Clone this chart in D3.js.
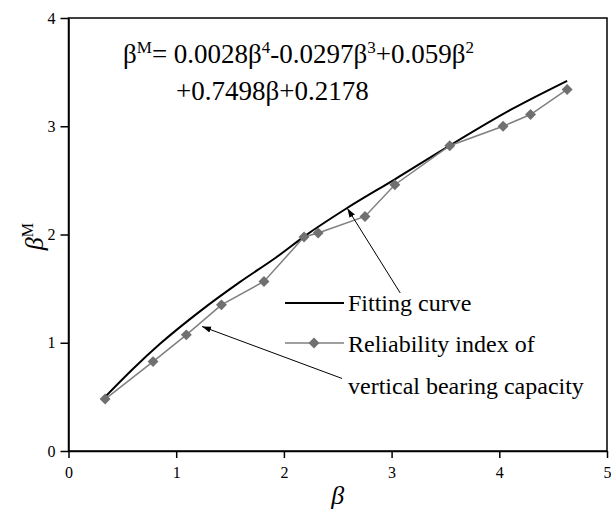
<!DOCTYPE html>
<html>
<head>
<meta charset="utf-8">
<script src="https://cdn.jsdelivr.net/npm/d3@7"></script>
</head>
<body style="margin:0;background:#fff">
<div id="chart"></div>
<script>
// reliability index of vertical bearing capacity (diamonds)
const betaVals = [0.34, 0.785, 1.094, 1.42, 1.815, 2.187, 2.318, 2.753, 3.03, 3.54, 4.035, 4.29, 4.63];
const betaMVals = [0.48, 0.826, 1.073, 1.35, 1.566, 1.977, 2.014, 2.167, 2.46, 2.82, 3.0, 3.108, 3.34];
// fitting curve
const fitBeta = [0.34, 0.6, 0.85, 1.22, 1.59, 1.93, 2.2, 2.58, 3.03, 3.52, 4.12, 4.63];
const fitBetaM = [0.5, 0.76, 0.99, 1.29, 1.56, 1.79, 1.99, 2.24, 2.51, 2.81, 3.16, 3.42];
const xTicks = [0, 1, 2, 3, 4, 5];
const yTicks = [0, 1, 2, 3, 4];
const legendLabels = ["Fitting curve", "Reliability index of", "vertical bearing capacity"];

const FONT = "'Liberation Serif'";
var width = 611, height = 512;
var margin = {top:18,right:4,bottom:61,left:68.5};

var svg = d3.select("#chart")
.append("svg")
.attr("width",width)
.attr("height",height);

var x = d3.scaleLinear().domain([0,5]).range([margin.left,width-margin.right]);
var y = d3.scaleLinear().domain([0,4]).range([height-margin.bottom,margin.top]);

/* frame */
svg.append("rect")
.attr("x",x(0)).attr("y",y(4))
.attr("width",x(5)-x(0)).attr("height",y(0)-y(4))
.attr("fill","none").attr("stroke","#000").attr("stroke-width",1.5);

var xAxis = svg.append("g")
.attr("transform","translate(0,"+y(0)+")")
.call(d3.axisBottom(x).tickValues(xTicks).tickSize(7).tickSizeOuter(0).tickFormat(d3.format("d")));
xAxis.select(".domain").attr("stroke-width",1.5);
xAxis.selectAll(".tick line").attr("stroke-width",1.5);
xAxis.selectAll("text").style("font-family",FONT).style("font-size","16px").attr("dy","1.05em").attr("fill","#000");

var yAxis = svg.append("g")
.attr("transform","translate("+x(0)+",0)")
.call(d3.axisLeft(y).tickValues(yTicks).tickSize(8).tickSizeOuter(0).tickFormat(d3.format("d")));
yAxis.select(".domain").attr("stroke-width",1.5);
yAxis.selectAll(".tick line").attr("stroke-width",1.5);
yAxis.selectAll("text").style("font-family",FONT).style("font-size","16px").attr("x",-13).attr("fill","#000");

/* axis titles */
svg.append("text")
.attr("x",(x(0)+x(5))/2).attr("y",504)
.attr("text-anchor","middle")
.style("font-family",FONT).style("font-size","26px").style("font-style","italic")
.text("\u03B2");

var yTitle = svg.append("text")
.attr("transform","translate(43,"+y(1.98)+")rotate(-90)")
.attr("text-anchor","middle")
.style("font-family",FONT).style("font-size","26px");
yTitle.append("tspan").style("font-family",FONT).style("font-style","italic").text("\u03B2");
yTitle.append("tspan").style("font-family",FONT).style("font-size","16px").attr("dy","-10").text("M");

/* data line + diamonds */
var pts = betaVals.map((b,i)=>({b:b,m:betaMVals[i]}));
var fit = fitBeta.map((b,i)=>({b:b,m:fitBetaM[i]}));

svg.append("path")
.datum(fit)
.attr("fill","none").attr("stroke","#000").attr("stroke-width",2)
.attr("d",d3.line().x(d=>x(d.b)).y(d=>y(d.m)).curve(d3.curveMonotoneX));

svg.append("path")
.datum(pts)
.attr("fill","none").attr("stroke","#7f7f7f").attr("stroke-width",1.5)
.attr("d",d3.line().x(d=>x(d.b)).y(d=>y(d.m)));

var diamond = d3.symbol().type(d3.symbolDiamond2).size(76);
svg.selectAll(".pt")
.data(pts).enter()
.append("path")
.attr("class","pt")
.attr("transform",d=>"translate("+x(d.b)+","+y(d.m)+")")
.attr("d",diamond)
.attr("fill","#707070");

/* equation */
var eq1 = svg.append("text").attr("x",123).attr("y",63)
.style("font-family",FONT).style("font-size","27px");
function part(t,isSup){
  eq1.append("tspan").style("font-family",FONT)
  .style("font-size",isSup?"17px":"27px")
  .attr("dy",isSup?"-10":"10").text(t);
}
eq1.append("tspan").style("font-family",FONT).text("\u03B2");
part("M",true);
part("= 0.0028\u03B2",false);
part("4",true);
part("-0.0297\u03B2",false);
part("3",true);
part("+0.059\u03B2",false);
part("2",true);

svg.append("text").attr("x",176).attr("y",100)
.style("font-family",FONT).style("font-size","27px")
.text("+0.7498\u03B2+0.2178");

/* arrows */
svg.append("defs").append("marker")
.attr("id","arrow").attr("viewBox","0 0 10 10")
.attr("refX",10).attr("refY",5)
.attr("markerWidth",9).attr("markerHeight",9)
.attr("markerUnits","userSpaceOnUse")
.attr("orient","auto")
.append("path").attr("d","M0,1.5L10,5L0,8.5Z").attr("fill","#000");

const arrows = [
  {from:[3.08,1.46], to:[2.59,2.24]},
  {from:[2.54,0.67], to:[1.24,1.15]}
];
svg.selectAll(".arrow")
.data(arrows).enter()
.append("line")
.attr("class","arrow")
.attr("x1",d=>x(d.from[0])).attr("y1",d=>y(d.from[1]))
.attr("x2",d=>x(d.to[0])).attr("y2",d=>y(d.to[1]))
.attr("stroke","#000").attr("stroke-width",1)
.attr("marker-end","url(#arrow)");

/* legend */
var lg = svg.append("g");
lg.append("line").attr("x1",285).attr("x2",344).attr("y1",303).attr("y2",303)
.attr("stroke","#000").attr("stroke-width",2);
lg.append("line").attr("x1",285).attr("x2",344).attr("y1",343).attr("y2",343)
.attr("stroke","#7f7f7f").attr("stroke-width",1.5);
lg.append("path").attr("transform","translate(314,343)").attr("d",diamond).attr("fill","#707070");
lg.selectAll(".lt")
.data(legendLabels).enter()
.append("text")
.attr("class","lt")
.attr("x",348)
.attr("y",(d,i)=>[311,352,394][i])
.style("font-family",FONT).style("font-size","24px")
.text(d=>d);
</script>
</body>
</html>
